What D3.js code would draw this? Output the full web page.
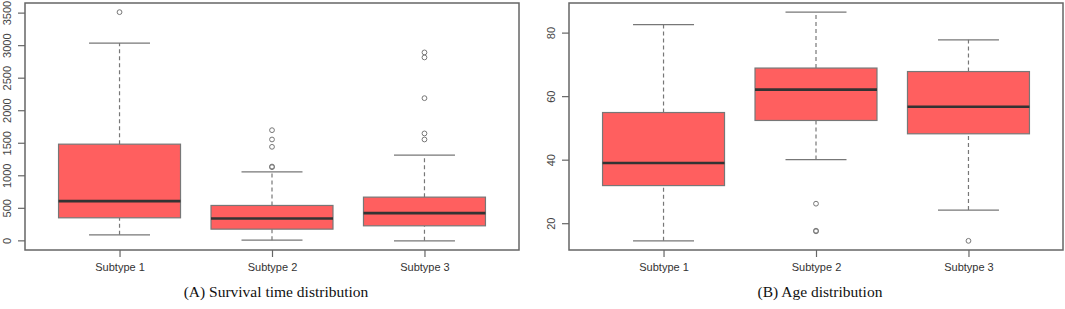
<!DOCTYPE html>
<html>
<head>
<meta charset="utf-8">
<script src="https://cdn.jsdelivr.net/npm/d3@7"></script>
<style>
  body { margin: 0; background: #fff; }
  svg { display: block; }
</style>
</head>
<body>
<div id="chart"></div>
<script>
// categories shared by both panels
const subtypes = ["Subtype 1", "Subtype 2", "Subtype 3"];

// survival time: [lower whisker, Q1, median, Q3, upper whisker]
const survivalStats = [
  [92, 354, 610, 1486, 3039],
  [11, 180, 344, 544, 1061],
  [0, 231, 426, 672, 1317]
];
const survivalOutliers = [
  [3515],
  [1701, 1558, 1445, 1142, 1132],
  [2896, 2819, 2193, 1651, 1558]
];
const survivalTicks = [0, 500, 1000, 1500, 2000, 2500, 3000, 3500];

// age: [lower whisker, Q1, median, Q3, upper whisker]
const ageStats = [
  [14.6, 32.0, 39.1, 55.0, 82.7],
  [40.2, 52.5, 62.2, 69.0, 86.6],
  [24.3, 48.3, 56.8, 67.9, 77.9]
];
const ageOutliers = [
  [],
  [26.3, 17.8, 17.6],
  [14.6]
];
const ageTicks = [20, 40, 60, 80];

const titles = ["(A) Survival time distribution", "(B) Age distribution"];

const svg = d3.select("#chart").append("svg")
    .attr("width", 1065)
    .attr("height", 309);

function drawPanel(left, right, stats, outliers, ticks, title) {
    const top = 3, bottom = 250;

    // R style 4% extension of the data range
    const all = stats.flat().concat(outliers.flat());
    const lo = d3.min(all), hi = d3.max(all);
    const pad = (hi - lo) * 0.04;

    const x = d3.scaleLinear().domain([0.38, 3.62]).range([left, right]);
    const y = d3.scaleLinear().domain([lo - pad, hi + pad]).range([bottom, top]);

    const g = svg.append("g");

    // y axis, labels rotated like base R
    const yAxis = g.append("g")
        .attr("transform", `translate(${left},0)`)
        .call(d3.axisLeft(y).tickValues(ticks).tickFormat(d3.format("d")).tickSize(7));
    yAxis.select(".domain").remove();
    yAxis.selectAll(".tick").attr("transform", "translate(0,0)");
    yAxis.selectAll(".tick line")
        .attr("y1", d => y(d)).attr("y2", d => y(d))
        .attr("stroke", "#666").attr("stroke-width", 1.2);
    yAxis.selectAll(".tick text")
        .attr("x", 0)
        .attr("y", -14)
        .attr("dy", 0)
        .attr("text-anchor", "middle")
        .attr("transform", d => `translate(0,${y(d)}) rotate(-90)`)
        .attr("fill", "#444")
        .style("font-family", "Liberation Sans, Arial, sans-serif")
        .style("font-size", "11px");

    // x axis
    const xAxis = g.append("g")
        .attr("transform", `translate(0,${bottom})`)
        .call(d3.axisBottom(x).tickValues([1, 2, 3])
            .tickFormat((d, i) => subtypes[i]).tickSize(7).tickPadding(6));
    xAxis.select(".domain").remove();
    xAxis.selectAll("line").attr("stroke", "#666").attr("stroke-width", 1.2);
    xAxis.selectAll("text")
        .attr("fill", "#333")
        .style("font-family", "Liberation Sans, Arial, sans-serif")
        .style("font-size", "11px");

    const boxes = g.selectAll(".box")
        .data(stats)
        .join("g")
        .attr("class", "box");

    // whiskers
    boxes.append("line")
        .attr("x1", (d, i) => x(i + 1)).attr("x2", (d, i) => x(i + 1))
        .attr("y1", d => y(d[0])).attr("y2", d => y(d[1]))
        .attr("stroke", "#777").attr("stroke-width", 1.2).attr("stroke-dasharray", "4,3");
    boxes.append("line")
        .attr("x1", (d, i) => x(i + 1)).attr("x2", (d, i) => x(i + 1))
        .attr("y1", d => y(d[3])).attr("y2", d => y(d[4]))
        .attr("stroke", "#777").attr("stroke-width", 1.2).attr("stroke-dasharray", "4,3");

    // caps
    [0, 4].forEach(k => {
        boxes.append("line")
            .attr("x1", (d, i) => x(i + 1 - 0.2)).attr("x2", (d, i) => x(i + 1 + 0.2))
            .attr("y1", d => y(d[k])).attr("y2", d => y(d[k]))
            .attr("stroke", "#777").attr("stroke-width", 1.3);
    });

    // box
    boxes.append("rect")
        .attr("x", (d, i) => x(i + 1 - 0.4))
        .attr("width", x(1.4) - x(0.6))
        .attr("y", d => y(d[3]))
        .attr("height", d => y(d[1]) - y(d[3]))
        .attr("fill", "#ff5f5f")
        .attr("stroke", "#777")
        .attr("stroke-width", 1.2);

    // median
    boxes.append("line")
        .attr("x1", (d, i) => x(i + 1 - 0.4)).attr("x2", (d, i) => x(i + 1 + 0.4))
        .attr("y1", d => y(d[2])).attr("y2", d => y(d[2]))
        .attr("stroke", "#333").attr("stroke-width", 2.6);

    // outliers
    outliers.forEach((vals, i) => {
        g.selectAll(null)
            .data(vals)
            .join("circle")
            .attr("cx", x(i + 1))
            .attr("cy", d => y(d))
            .attr("r", 2.4)
            .attr("fill", "none")
            .attr("stroke", "#777")
            .attr("stroke-width", 1);
    });

    // plot frame
    g.append("rect")
        .attr("x", left).attr("y", top)
        .attr("width", right - left).attr("height", bottom - top)
        .attr("fill", "none")
        .attr("stroke", "#666")
        .attr("stroke-width", 1.5);

    // caption
    svg.append("text")
        .attr("x", (left + right) / 2 + 4)
        .attr("y", 297)
        .attr("text-anchor", "middle")
        .attr("fill", "#111")
        .style("font-family", "Liberation Serif, Times New Roman, serif")
        .style("font-size", "15.5px")
        .text(title);
}

drawPanel(25, 519, survivalStats, survivalOutliers, survivalTicks, titles[0]);
drawPanel(569, 1063, ageStats, ageOutliers, ageTicks, titles[1]);
</script>
</body>
</html>
